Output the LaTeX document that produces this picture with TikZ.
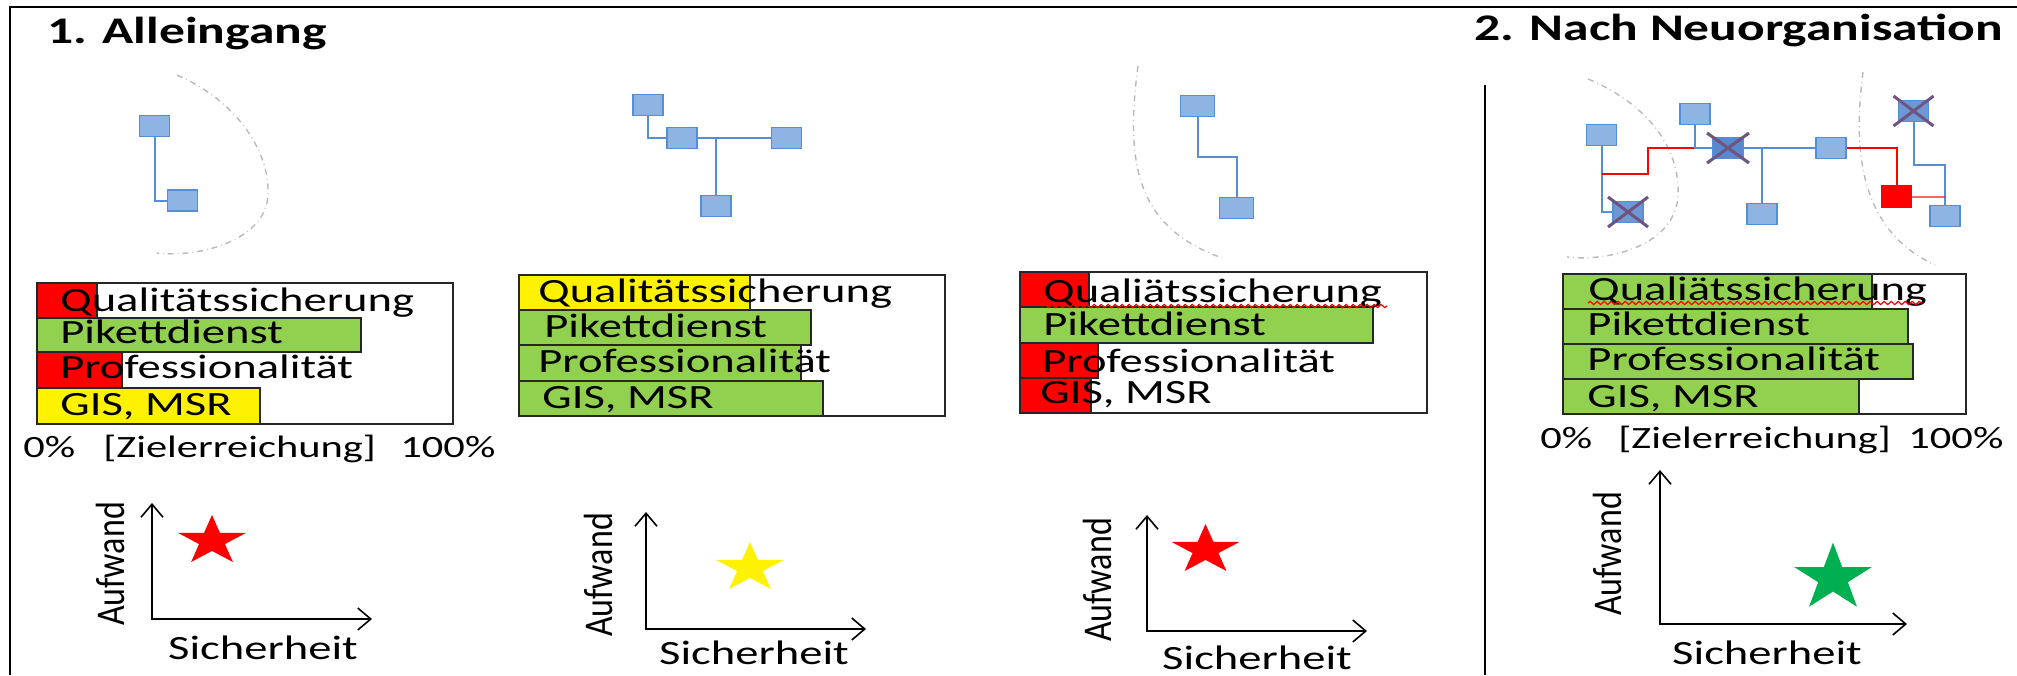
\documentclass[tikz,border=0pt]{standalone}
\usepackage{fontspec}
\setmainfont{Carlito}[FakeStretch=1.37]
\newfontfamily\plainlabel{Carlito}
\usetikzlibrary{shapes.geometric,arrows.meta,decorations.pathmorphing}

\definecolor{nodefill}{RGB}{142,180,227}
\definecolor{nodeline}{RGB}{85,142,213}
\definecolor{deadfill}{RGB}{110,152,212}
\definecolor{deaddark}{RGB}{88,136,205}
\definecolor{crossline}{RGB}{112,84,128}
\definecolor{bargreen}{RGB}{146,208,80}
\definecolor{stargreen}{RGB}{0,176,80}
\definecolor{zonegray}{RGB}{185,185,185}

\tikzset{
  netbox/.style={draw=nodeline, fill=nodefill, line width=0.75pt,
    minimum width=15pt, minimum height=10.5pt, inner sep=0pt},
  deadbox/.style={netbox, fill=deadfill},
  link/.style={draw=nodeline, line width=1pt},
  redlink/.style={draw=red, line width=1pt},
  crossmark/.style={draw=crossline, line width=1.5pt},
  zone/.style={draw=zonegray, dash dot, line width=0.7pt},
  barframe/.style={draw=black!85, line width=0.75pt, fill=white},
  bar/.style={draw=black!85, line width=0.75pt},
  bartext/.style={anchor=base west, inner sep=0pt, font=\fontsize{17}{20}\selectfont},
  scaletext/.style={anchor=base west, inner sep=0pt, font=\fontsize{15.5}{19}\selectfont},
  heading/.style={anchor=base west, inner sep=0pt, font=\bfseries\fontsize{18.8}{22}\selectfont},
  axis/.style={{Straight Barb[length=6.5pt,width=11pt]}-{Straight Barb[length=6.5pt,width=11pt]}, line width=0.8pt},
  xlabel/.style={inner sep=0pt, font=\fontsize{17}{20}\selectfont},
  ylabel/.style={rotate=90, yscale=1.2, inner sep=0pt, font=\plainlabel\fontsize{17}{20}\selectfont},
  goal/.style={star, star points=5, star point ratio=2.618, inner sep=0pt,
    draw=none, minimum size=26pt, xscale=1.37},
  spell/.style={draw=red, line width=0.6pt, decorate,
    decoration={snake, amplitude=0.8pt, segment length=3.5pt}}
}

\begin{document}
\begin{tikzpicture}[x=0.5pt, y=-0.5pt]
  \useasboundingbox (0,0) rectangle (2017,675);
  \draw[line width=1.2pt] (10,675) -- (10,7) -- (2017,7);
  \draw[line width=0.7pt] (1485,85) -- (1485,675);

  \node[heading] (t1) at (47,43) {1. Alleingang};
  \node[heading] (t2) at (1474,40) {2. Nach Neuorganisation};

  % zones
  \draw[zone] (177,75) .. controls (235,100) and (270,150) .. (268,195)
    .. controls (266,240) and (200,258) .. (157,253);
  \draw[zone] (1138,66) .. controls (1124,170) and (1140,228) .. (1222,258);
  \draw[zone] (1588,79) .. controls (1650,105) and (1680,150) .. (1678,195)
    .. controls (1676,245) and (1610,262) .. (1567,257);
  \draw[zone] (1863,72) .. controls (1850,170) and (1870,235) .. (1935,265);

  % network 1
  \node[netbox] (n1a) at (154.5,126) {};
  \node[netbox] (n1b) at (182.5,200.5) {};
  \draw[link] (n1a) |- (n1b);

  % network 2
  \node[netbox] (n2a) at (648,105) {};
  \node[netbox] (n2b) at (682,138) {};
  \node[netbox] (n2c) at (786.5,138) {};
  \node[netbox] (n2d) at (716,206) {};
  \draw[link] (n2a) |- (n2b);
  \draw[link] (n2b) -- (n2c);
  \draw[link] (n2b -| n2d) -- (n2d);

  % network 3
  \node[netbox, minimum width=17pt] (n3a) at (1197.5,106) {};
  \node[netbox, minimum width=17pt] (n3b) at (1236.5,208) {};
  \coordinate (k3) at (1197.5,157);
  \draw[link] (n3a) -- (k3) -| (n3b);

  % network 4
  \node[netbox] (n4a) at (1601.5,135) {};
  \node[deadbox] (n4b) at (1628,212) {};
  \node[netbox] (n4c) at (1695,114) {};
  \node[deadbox, fill=deaddark] (n4d) at (1728,148) {};
  \node[netbox] (n4e) at (1762,214) {};
  \node[netbox] (n4f) at (1831,148) {};
  \node[deadbox] (n4g) at (1913.5,111) {};
  \node[netbox, draw=red, fill=red] (n4h) at (1896.5,196.5) {};
  \node[netbox] (n4i) at (1945,216) {};
  \coordinate (k4a) at (1601.5,174);
  \coordinate (k4b) at (1648,148);
  \coordinate (k4c) at (1913.5,165);
  \draw[link] (n4a) |- (n4b);
  \draw[redlink] (k4a) -| (k4b) -- (n4c |- n4d);
  \draw[link] (n4c) |- (n4d);
  \draw[link] (n4d) -- (n4f);
  \draw[link] (n4d -| n4e) -- (n4e);
  \draw[redlink] (n4f) -| (n4h);
  \draw[link] (n4g) -- (k4c) -| (n4i);
  \draw[redlink, opacity=0.6] (n4h) -- (n4h -| n4i);
  \draw[crossmark] (n4b) ++(-20,-15) -- ++(40,30) (n4b) ++(-20,15) -- ++(40,-30);
  \draw[crossmark] (n4d) ++(-21,-15) -- ++(42,30) (n4d) ++(-21,15) -- ++(42,-30);
  \draw[crossmark] (n4g) ++(-20,-15) -- ++(40,30) (n4g) ++(-20,15) -- ++(40,-30);

  % chart 1
  \draw[barframe] (37,283) rectangle (453,424);
  \draw[bar, fill=red] (37,283) rectangle (97,318);
  \draw[bar, fill=bargreen] (37,318) rectangle (361,352);
  \draw[bar, fill=red] (37,352) rectangle (122,388);
  \draw[bar, fill=yellow] (37,388) rectangle (260,424);
  \node[bartext] (c1q) at (60,311) {Qualitätssicherung};
  \node[bartext] (c1p) at (60,343) {Pikettdienst};
  \node[bartext] (c1r) at (60,378) {Professionalität};
  \node[bartext] (c1g) at (60,415) {GIS, MSR};
  \node[scaletext] (c1lo) at (23,457) {0\%};
  \node[scaletext] (c1mid) at (103,457) {[Zielerreichung]};
  \node[scaletext] (c1hi) at (400,457) {100\%};

  % chart 2
  \draw[barframe] (519,275) rectangle (945,416);
  \draw[bar, fill=yellow] (519,275) rectangle (750,310);
  \draw[bar, fill=bargreen] (519,310) rectangle (811,345);
  \draw[bar, fill=bargreen] (519,345) rectangle (801,381);
  \draw[bar, fill=bargreen] (519,381) rectangle (823,416);
  \node[bartext] (c2q) at (538,302) {Qualitätssicherung};
  \node[bartext] (c2p) at (544,337) {Pikettdienst};
  \node[bartext] (c2r) at (538,372) {Professionalität};
  \node[bartext] (c2g) at (542,408) {GIS, MSR};

  % chart 3
  \draw[barframe] (1020,272) rectangle (1427,413);
  \draw[bar, fill=red] (1020,272) rectangle (1089,307);
  \draw[bar, fill=bargreen] (1020,307) rectangle (1373,343);
  \draw[bar, fill=red] (1020,343) rectangle (1098,378);
  \draw[bar, fill=red] (1020,378) rectangle (1091,413);
  \node[bartext] (c3q) at (1043,302) {Qualiätssicherung};
  \node[bartext] (c3p) at (1043,335) {Pikettdienst};
  \node[bartext] (c3r) at (1042,372) {Professionalität};
  \node[bartext] (c3g) at (1040,403) {GIS, MSR};
  \draw[spell] (1043,306) -- (1387,306);

  % chart 4
  \draw[barframe] (1563,274) rectangle (1966,414);
  \draw[bar, fill=bargreen] (1563,274) rectangle (1872,309);
  \draw[bar, fill=bargreen] (1563,309) rectangle (1908,344);
  \draw[bar, fill=bargreen] (1563,344) rectangle (1913,379);
  \draw[bar, fill=bargreen] (1563,379) rectangle (1859,414);
  \node[bartext] (c4q) at (1588,300) {Qualiätssicherung};
  \node[bartext] (c4p) at (1587,335) {Pikettdienst};
  \node[bartext] (c4r) at (1587,370) {Professionalität};
  \node[bartext] (c4g) at (1587,407) {GIS, MSR};
  \draw[spell] (1588,303) -- (1922,303);
  \node[scaletext] (c4lo) at (1540,448) {0\%};
  \node[scaletext] (c4mid) at (1618,448) {[Zielerreichung]};
  \node[scaletext] (c4hi) at (1908,448) {100\%};

  % effort vs safety
  \draw[axis] (152,503) -- (152,619) -- (372,619);
  \node[goal, fill=red] (s1) at (212,541) {};
  \node[ylabel] (a1) at (110,564) {Aufwand};
  \node[xlabel] (h1) at (263,648) {Sicherheit};

  \draw[axis] (646,512) -- (646,629) -- (866,629);
  \node[goal, fill=yellow] (s2) at (750,568) {};
  \node[ylabel] (a2) at (598,575) {Aufwand};
  \node[xlabel] (h2) at (754,653) {Sicherheit};

  \draw[axis] (1147,515) -- (1147,631) -- (1367,631);
  \node[goal, fill=red] (s3) at (1205.5,550) {};
  \node[ylabel] (a3) at (1097,580) {Aufwand};
  \node[xlabel] (h3) at (1257,658) {Sicherheit};

  \draw[axis] (1660,470) -- (1660,624) -- (1907,624);
  \node[goal, fill=stargreen, minimum size=35.5pt, xscale=0.84] (s4) at (1833,578) {};
  \node[ylabel] (a4) at (1607,554) {Aufwand};
  \node[xlabel] (h4) at (1767,653) {Sicherheit};
\end{tikzpicture}
\end{document}
